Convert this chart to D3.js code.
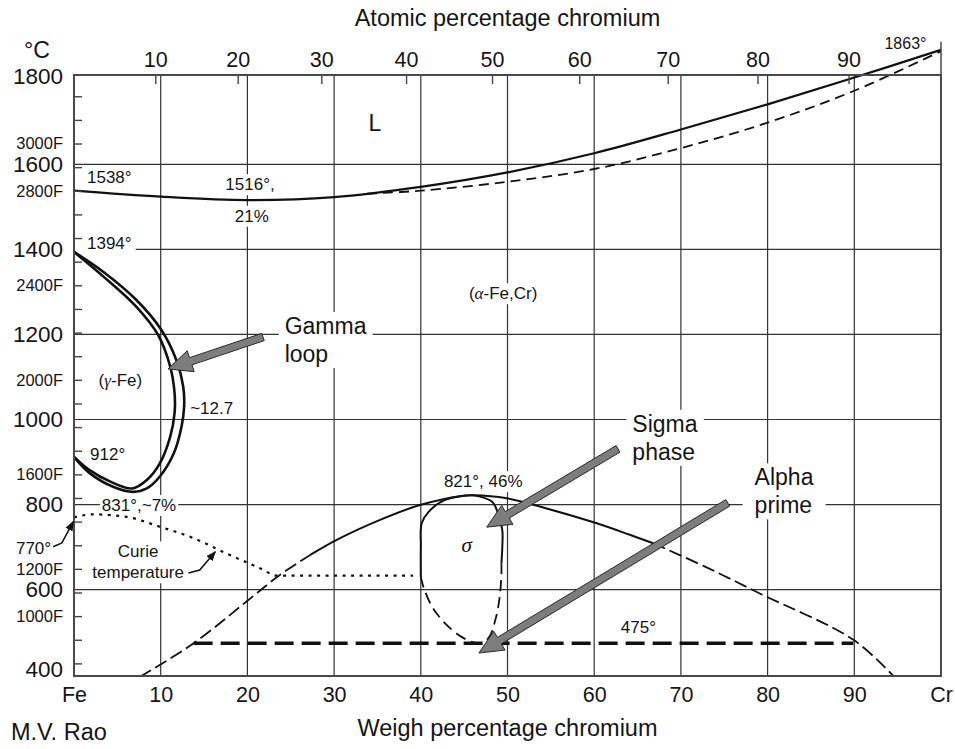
<!DOCTYPE html>
<html>
<head>
<meta charset="utf-8">
<title>Fe-Cr phase diagram</title>
<style>
  body { margin: 0; background: #fff; }
  svg text { font-family: "Liberation Sans", Arial, Helvetica, sans-serif; fill: #151515; }
  .grid line { stroke: #333; stroke-width: 1.2; }
  .axis path { display: none; }
  .axis line { stroke: #444; stroke-width: 1.4; }
  .greek { font-family: "Liberation Serif", "DejaVu Serif", serif; font-style: italic; }
</style>
</head>
<body>
<script src="https://cdn.jsdelivr.net/npm/d3@7/dist/d3.min.js"></script>
<script>

// ---- axis values ----
var celsiusTicks = [400, 600, 800, 1000, 1200, 1400, 1600, 1800];
var gridTemps = [600, 800, 1000, 1200, 1400, 1600];
var fahrenheitTicks = [800, 900, 1000, 1100, 1200, 1300, 1400, 1500, 1600, 1700, 1800, 1900, 2000,
                       2100, 2200, 2300, 2400, 2500, 2600, 2700, 2800, 2900, 3000, 3100, 3200];
var fahrenheitLabels = [1000, 1200, 1600, 2000, 2400, 2800, 3000];
var weightTicks = [0, 10, 20, 30, 40, 50, 60, 70, 80, 90, 100];
var weightGrid = [10, 20, 30, 40, 50, 60, 70, 80, 90];
var atomicTicks = [10, 20, 30, 40, 50, 60, 70, 80, 90];

// ---- boundaries, [wt% Cr, deg C] ----
var liquidus = [[0,1538],[10,1524],[20,1516],[30,1523],[40,1547],[50,1581],[60,1626],[70,1682],[80,1741],[90,1804],[100,1869]];
var solidus = [[33.8,1531],[40,1538],[50,1559],[60,1589],[70,1638],[80,1698],[90,1773],[100,1866]];
var gammaOuter = [[0,1394],[3.4,1347],[7.2,1281],[10.1,1210],[11.8,1140],[12.6,1077],[12.7,1030],[12.4,983],
                  [11.5,920],[9.9,866],[8.4,838],[6.8,830],[4.5,842],[1.8,874],[0,912]];
var gammaInner = [[0,1394],[3.4,1336],[7.2,1265],[9.7,1199],[11.1,1124],[11.6,1062],[11.6,1015],[11.1,960],
                  [9.9,897],[8.4,858],[6.7,838],[4.2,854],[1.8,881],[0,912]];
var curie = [[0,770],[2.2,777],[6.1,771],[9.9,748],[13.8,721],[17.6,685],[21.5,650],[23.4,633],[39.1,633]];
var gapLeft = [[7.6,395],[13.8,474],[19.9,572],[23.7,634],[27.2,681]];
var solvus = [[27.2,681],[30.3,717],[35.3,764],[39.9,799],[44.9,821],[46,822],[49.9,815],[54.5,791],[60.3,756],[64.1,729],[66.8,709]];
var gapRight = [[66.8,709],[72.9,653],[79.1,591],[89.9,482],[94.5,397]];
var sigmaTop = [[40,630],[40,701],[40.1,756],[40.9,783],[42.8,811],[45.9,822],[46.6,820],[48.2,807],[48.9,780],[49.4,740],[49.4,701],[49.3,662]];
var sigmaBottom = [[40,630],[40.3,607],[41.3,560],[42.8,521],[44.7,489],[46.6,474],[47.8,486],[48.6,529],[49.1,583],[49.3,638],[49.3,662]];
var eutectoid = [[13.8,474],[89.9,474]];

// ---- annotations ----
var notes = [
  { lines: ["L"], wt: 34.7, t: 1697, size: 23 },
  { lines: ["1538°"], wt: 1.5, t: 1570, size: 17, anchor: "start" },
  { lines: ["1516°,"], wt: 20.3, t: 1553, size: 17, bg: 2 },
  { lines: ["21%"], wt: 20.5, t: 1479, size: 17, bg: 2 },
  { lines: ["1394°"], wt: 1.5, t: 1414, size: 17, anchor: "start", bg: 4, toEdge: true },
  { lines: ["(*α*-Fe,Cr)"], wt: 49.5, t: 1297, size: 17, bg: 2 },
  { lines: ["Gamma", "loop"], wt: 24.3, t: 1220, size: 23, anchor: "start", bg: 6, lead: 28 },
  { lines: ["(*γ*-Fe)"], wt: 5.35, t: 1093, size: 17 },
  { lines: ["~12.7"], wt: 13.4, t: 1027, size: 17, anchor: "start" },
  { lines: ["912°"], wt: 1.85, t: 919, size: 17, anchor: "start" },
  { lines: ["831°,~7%"], wt: 7.5, t: 799, size: 17, bg: 2 },
  { lines: ["770°"], wt: -4.67, t: 698, size: 17 },
  { lines: ["Curie", "temperature"], wt: 7.4, t: 690, size: 17, bg: 3, lead: 21 },
  { lines: ["821°, 46%"], wt: 47.2, t: 855, size: 17, bg: 2 },
  { lines: ["*σ*"], wt: 45.3, t: 706, size: 21 },
  { lines: ["Sigma", "phase"], wt: 64.4, t: 990, size: 23, anchor: "start", bg: 6, lead: 28 },
  { lines: ["Alpha", "prime"], wt: 78.5, t: 864, size: 23, anchor: "start", bg: 12, lead: 28 },
  { lines: ["475°"], wt: 65.1, t: 513, size: 17 },
  { lines: ["1863°"], wt: 95.9, t: 1885, size: 16 }
];

var bigArrows = [
  { from: [21.8, 1194], to: [10.84, 1119] },
  { from: [62.75, 931], to: [47.6, 747] },
  { from: [75.4, 804], to: [46.7, 451] }
];
var smallArrows = [
  [[13.2, 639], [14.5, 646], [16.3, 689]],
  [[-2.4, 701], [-1.4, 710], [-0.08, 760]]
];

// ---- page ----
var W = 955, H = 749;
var x = d3.scaleLinear().domain([0, 100]).range([74, 941]);
var y = d3.scaleLinear().domain([397, 1810]).range([676, 75]);

function toC(f) { return (f - 32) * 5 / 9; }
// atomic % Cr <-> weight % Cr
function wtToAt(w) { var a = w / 51.996, b = (100 - w) / 55.845; return 100 * a / (a + b); }
function atToWt(at) { var a = at * 51.996, b = (100 - at) * 55.845; return 100 * a / (a + b); }

var svg = d3.select("body").append("svg")
  .attr("width", W).attr("height", H)
  .style("background", "#fff");

svg.append("defs").append("clipPath").attr("id", "plotclip")
  .append("rect").attr("x", x(0)).attr("y", 0).attr("width", x(100) - x(0)).attr("height", y(397));

svg.select("defs").append("marker")
  .attr("id", "head")
  .attr("viewBox", "0 0 10 8")
  .attr("refX", 9).attr("refY", 4)
  .attr("markerWidth", 10).attr("markerHeight", 8)
  .attr("markerUnits", "userSpaceOnUse")
  .attr("orient", "auto")
  .append("path").attr("d", "M0,0L10,4L0,8z").attr("fill", "#111");

// grid
var grid = svg.append("g").attr("class", "grid");
grid.selectAll(".h").data(gridTemps).enter().append("line")
  .attr("x1", x(0)).attr("x2", x(100))
  .attr("y1", function(d) { return y(d); }).attr("y2", function(d) { return y(d); });
grid.selectAll(".v").data(weightGrid).enter().append("line")
  .attr("x1", function(d) { return x(d); }).attr("x2", function(d) { return x(d); })
  .attr("y1", y(1810)).attr("y2", y(397));

var bgLayer = svg.append("g");
var curveLayer = svg.append("g").attr("clip-path", "url(#plotclip)");
var textLayer = svg.append("g");

// fahrenheit ticks inside the left edge
svg.append("g").attr("class", "axis")
  .attr("transform", "translate(" + x(0) + ",0)")
  .call(d3.axisRight(y).tickValues(fahrenheitTicks.map(toC)).tickSize(8).tickFormat(""));

svg.append("g").attr("class", "axis")
  .attr("transform", "translate(" + x(0) + ",0)")
  .call(d3.axisLeft(y).tickValues(fahrenheitLabels.map(toC)).tickSize(0).tickPadding(11)
        .tickFormat(function(d) { return Math.round(d * 9 / 5 + 32) + "F"; }))
  .selectAll("text").style("font-size", "16.5px");

var cAxis = svg.append("g").attr("class", "axis")
  .attr("transform", "translate(" + x(0) + ",0)")
  .call(d3.axisLeft(y).tickValues(celsiusTicks).tickSize(0).tickPadding(11).tickFormat(d3.format("d")));
cAxis.selectAll("text").style("font-size", "22.5px")
  .attr("dy", function(d) { return d == 400 ? "0.08em" : d == 1800 ? "0.2em" : "0.32em"; });

// atomic % on top, ticks hanging inside
svg.append("g").attr("class", "axis")
  .attr("transform", "translate(0," + y(1810) + ")")
  .call(d3.axisTop(x).tickValues(atomicTicks.map(atToWt)).tickSizeInner(-9).tickSizeOuter(0).tickPadding(8)
        .tickFormat(function(d) { return Math.round(wtToAt(d)); }))
  .selectAll("text").style("font-size", "21.5px");

// weight % at bottom
svg.append("g").attr("class", "axis")
  .attr("transform", "translate(0," + y(397) + ")")
  .call(d3.axisBottom(x).tickValues(weightTicks).tickSize(0).tickPadding(11)
        .tickFormat(function(d) { return d == 0 ? "Fe" : d == 100 ? "Cr" : d; }))
  .selectAll("text").style("font-size", "21.5px");

// frame
svg.append("rect")
  .attr("x", x(0)).attr("y", y(1810))
  .attr("width", x(100) - x(0)).attr("height", y(397) - y(1810))
  .attr("fill", "none").attr("stroke", "#4a4a4a").attr("stroke-width", 2);
svg.append("line")
  .attr("x1", x(100)).attr("x2", x(100)).attr("y1", y(1810)).attr("y2", y(1888))
  .attr("stroke", "#4a4a4a").attr("stroke-width", 1.5);

// titles
svg.append("text").attr("x", (x(0) + x(100)) / 2).attr("y", 18).attr("dy", "0.35em")
  .attr("text-anchor", "middle").style("font-size", "23.5px").text("Atomic percentage chromium");
svg.append("text").attr("x", (x(0) + x(100)) / 2).attr("y", 728).attr("dy", "0.35em")
  .attr("text-anchor", "middle").style("font-size", "23.5px").text("Weigh percentage chromium");
svg.append("text").attr("x", 11).attr("y", 732).attr("dy", "0.35em")
  .style("font-size", "23.5px").text("M.V. Rao");
svg.append("text").attr("x", 37).attr("y", 50).attr("dy", "0.35em")
  .attr("text-anchor", "middle").style("font-size", "23px").text("°C");

// curves
var line = d3.line()
  .x(function(d) { return x(d[0]); })
  .y(function(d) { return y(d[1]); });

function draw(data, width, dash, curve) {
  curveLayer.append("path")
    .datum(data)
    .attr("d", line.curve(curve || d3.curveCatmullRom.alpha(0.5)))
    .attr("fill", "none")
    .attr("stroke", "#111")
    .attr("stroke-width", width)
    .attr("stroke-dasharray", dash || null);
}

draw(liquidus, 2.2);
draw(solidus, 1.8, "10,6");
draw(gammaOuter, 2.6);
draw(gammaInner, 2.6);
draw(curie, 2.2, "3,5.5", d3.curveMonotoneX);
draw(gapLeft, 1.8, "13,5");
draw(solvus, 2);
draw(gapRight, 1.8, "13,5");
draw(sigmaTop, 2);
draw(sigmaBottom, 1.8, "11,6");
draw(eutectoid, 3.5, "19,8", d3.curveLinear);

// annotation text
notes.forEach(function(n) {
  var anchor = n.anchor || "middle";
  var px = x(n.wt), py = y(n.t);
  var t = textLayer.append("text")
    .attr("x", px).attr("y", py)
    .attr("text-anchor", anchor)
    .style("font-size", n.size + "px");
  n.lines.forEach(function(str, i) {
    var ts = t.append("tspan").attr("x", px).attr("dy", i == 0 ? "0.35em" : (n.lead + "px"));
    str.split("*").forEach(function(part, k) {
      if (!part) return;
      ts.append("tspan").attr("class", k % 2 ? "greek" : null).text(part);
    });
  });
  if (n.bg) {
    var b = t.node().getBBox();
    var left = n.toEdge ? x(0) + 1 : b.x - n.bg;
    bgLayer.append("rect")
      .attr("x", left).attr("y", b.y - 1)
      .attr("width", b.x + b.width + n.bg - left).attr("height", b.height + 2)
      .attr("fill", "#fff");
  }
});

// grey pointer arrows
function arrowShape(p0, p1) {
  var dx = p1[0] - p0[0], dy = p1[1] - p0[1], len = Math.sqrt(dx * dx + dy * dy);
  var ux = dx / len, uy = dy / len, nx = -uy, ny = ux;
  var w = 3.8, hw = 11, hl = 24;
  var bx = p1[0] - ux * hl, by = p1[1] - uy * hl;
  return [
    [p0[0] + nx * w, p0[1] + ny * w], [bx + nx * w, by + ny * w], [bx + nx * hw, by + ny * hw],
    p1, [bx - nx * hw, by - ny * hw], [bx - nx * w, by - ny * w], [p0[0] - nx * w, p0[1] - ny * w]
  ];
}
svg.append("g").selectAll("path").data(bigArrows).enter().append("path")
  .attr("d", function(d) {
    return "M" + arrowShape([x(d.from[0]), y(d.from[1])], [x(d.to[0]), y(d.to[1])]).join("L") + "Z";
  })
  .attr("fill", "#7d7d7d").attr("stroke", "#2a2a2a").attr("stroke-width", 1);

var plain = d3.line().x(function(d) { return x(d[0]); }).y(function(d) { return y(d[1]); });
svg.append("g").selectAll("path").data(smallArrows).enter().append("path")
  .attr("d", plain)
  .attr("fill", "none").attr("stroke", "#111").attr("stroke-width", 1.5)
  .attr("marker-end", "url(#head)");

</script>
</body>
</html>
